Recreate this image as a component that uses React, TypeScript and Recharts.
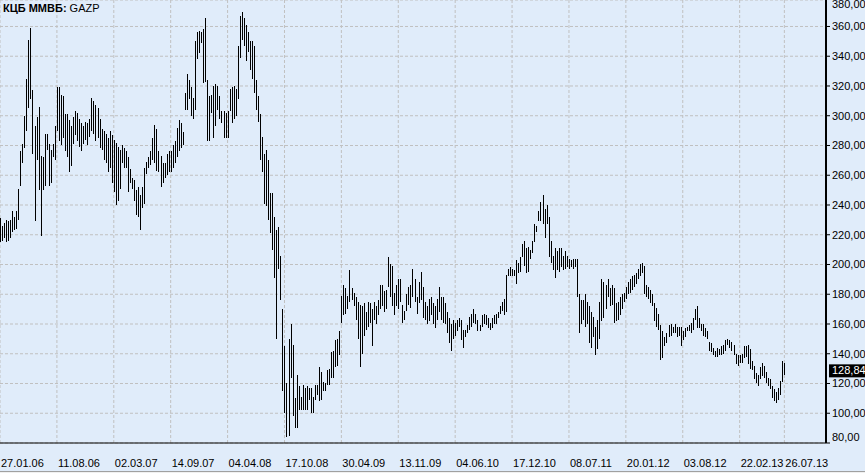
import React from 'react';
import { BarChart, Bar, XAxis, YAxis, CartesianGrid, ReferenceLine } from 'recharts';

// weekly bars, one row per date tick interval (28 weeks)
const tickDates = [
  '27.01.06', '11.08.06', '02.03.07', '14.09.07', '04.04.08', '17.10.08', '30.04.09',
  '13.11.09', '04.06.10', '17.12.10', '08.07.11', '20.01.12', '03.08.12', '22.02.13', '26.07.13',
];
const tickIndexes = [0, 28, 56, 84, 112, 140, 168, 196, 224, 252, 280, 308, 336, 364, 386];
const priceTicks = [80, 100, 120, 140, 160, 180, 200, 220, 240, 260, 280, 300, 320, 340, 360];
const lastPrice = 128.84;

const highs = [
  231, 226, 228, 230, 229, 230, 236, 232, 236, 251, 276, 281, 300, 325, 351, 359, 317, 293, 299, 306, 273, 272, 288, 288, 281, 277, 281, 293,
  319, 319, 314, 313, 301, 301, 297, 293, 299, 303, 302, 298, 295, 293, 296, 295, 298, 312, 310, 307, 305, 298, 291, 290, 288, 285, 290, 287,
  284, 282, 279, 277, 280, 278, 276, 272, 264, 258, 257, 250, 252, 247, 252, 265, 269, 272, 276, 285, 294, 291, 276, 273, 268, 268, 274, 276,
  276, 280, 283, 292, 297, 295, 289, 315, 328, 324, 319, 312, 350, 356, 357, 356, 358, 366, 324, 313, 314, 320, 321, 320, 313, 303, 303, 302,
  303, 318, 319, 320, 318, 347, 367, 370, 366, 361, 356, 350, 350, 347, 324, 313, 301, 286, 274, 277, 270, 248, 248, 232, 223, 225, 206, 170,
  145, 120, 150, 160, 146, 110, 126, 118, 111, 119, 117, 118, 117, 117, 111, 119, 119, 131, 128, 121, 120, 129, 130, 141, 142, 149, 150, 155,
  179, 186, 184, 179, 196, 184, 181, 178, 175, 173, 172, 174, 168, 175, 174, 170, 175, 172, 176, 186, 186, 182, 183, 205, 200, 199, 181, 186,
  190, 190, 173, 169, 180, 185, 186, 197, 190, 178, 188, 195, 185, 175, 172, 177, 178, 174, 172, 177, 185, 178, 178, 174, 168, 164, 160, 163,
  161, 163, 164, 163, 156, 156, 159, 165, 167, 170, 167, 163, 159, 166, 167, 166, 164, 161, 164, 166, 167, 168, 172, 175, 177, 193, 197, 198,
  197, 196, 203, 201, 205, 214, 216, 211, 212, 210, 216, 227, 226, 236, 242, 247, 237, 240, 232, 216, 206, 211, 209, 211, 211, 206, 209, 206,
  204, 203, 204, 204, 204, 180, 176, 176, 180, 175, 172, 168, 165, 158, 163, 175, 190, 188, 186, 190, 184, 186, 184, 174, 175, 178, 180, 181,
  185, 188, 190, 192, 193, 194, 197, 200, 201, 199, 186, 185, 183, 180, 174, 171, 167, 159, 155, 151, 154, 159, 160, 158, 160, 158, 158, 158,
  155, 157, 158, 159, 161, 164, 170, 172, 164, 160, 160, 157, 155, 148, 147, 144, 142, 144, 143, 145, 146, 149, 150, 149, 148, 146, 140, 139,
  139, 140, 145, 145, 146, 143, 135, 132, 127, 126, 131, 134, 132, 128, 124, 123, 118, 116, 114, 117, 122, 135, 134,
];

const lows = [
  215, 216, 218, 215, 216, 218, 222, 223, 224, 230, 253, 268, 278, 290, 305, 311, 274, 229, 270, 250, 219, 250, 253, 277, 253, 255, 272, 270,
  290, 283, 280, 285, 276, 272, 262, 266, 281, 287, 283, 279, 276, 281, 284, 280, 286, 290, 288, 283, 285, 278, 277, 270, 268, 262, 265, 255,
  249, 240, 243, 251, 268, 265, 265, 249, 255, 251, 243, 233, 232, 223, 238, 241, 261, 265, 267, 270, 268, 263, 262, 252, 255, 258, 260, 262,
  262, 265, 268, 272, 276, 278, 280, 304, 304, 311, 300, 298, 304, 338, 342, 349, 322, 323, 283, 283, 302, 285, 293, 304, 298, 295, 285, 285,
  285, 303, 295, 298, 300, 311, 339, 351, 347, 337, 343, 331, 325, 315, 304, 296, 270, 262, 241, 239, 230, 221, 210, 191, 150, 197, 176, 115,
  100, 84, 85, 124, 98, 90, 90, 102, 102, 102, 102, 102, 109, 100, 100, 109, 112, 108, 109, 115, 115, 119, 119, 124, 124, 131, 132, 139,
  161, 166, 167, 170, 175, 176, 172, 163, 150, 131, 140, 152, 156, 158, 161, 145, 163, 160, 166, 170, 172, 168, 170, 185, 178, 172, 166, 172,
  170, 175, 161, 163, 169, 173, 171, 178, 175, 167, 174, 176, 164, 163, 160, 162, 166, 160, 157, 163, 168, 163, 161, 160, 154, 147, 142, 150,
  152, 155, 158, 149, 144, 151, 154, 156, 158, 161, 160, 155, 155, 158, 160, 159, 157, 156, 157, 160, 160, 164, 167, 169, 166, 168, 192, 192,
  192, 192, 187, 194, 195, 205, 199, 194, 195, 204, 208, 215, 222, 229, 229, 227, 218, 227, 205, 201, 196, 191, 196, 195, 198, 196, 197, 198,
  197, 198, 197, 198, 178, 154, 160, 163, 158, 160, 147, 144, 151, 139, 143, 150, 162, 164, 170, 178, 172, 173, 161, 162, 163, 166, 170, 175,
  177, 180, 181, 183, 185, 187, 190, 192, 194, 180, 178, 177, 174, 172, 162, 158, 156, 136, 137, 145, 147, 151, 152, 154, 154, 151, 152, 145,
  149, 151, 155, 155, 154, 156, 163, 157, 157, 155, 152, 151, 150, 142, 141, 139, 138, 138, 139, 139, 140, 142, 146, 144, 142, 139, 133, 132,
  134, 134, 137, 138, 133, 130, 129, 123, 120, 118, 123, 125, 124, 120, 118, 116, 110, 108, 107, 109, 112, 121, 126,
];

const data = highs.map((h, i) => ({ i, range: [lows[i], h] }));

const FONT = '"Liberation Sans", Arial, sans-serif';
const fmt = (v: number) => v.toFixed(2).replace('.', ',');

const HiLo = (props: any) => {
  const { x, y, width, height } = props;
  if (x == null || y == null) return null;
  const cx = Math.floor(x + width / 2) + 0.5;
  const top = Math.round(Math.min(y, y + height));
  const bot = Math.round(Math.max(y, y + height));
  return <line x1={cx} x2={cx} y1={top} y2={Math.max(bot, top + 1)} stroke="#000" strokeWidth={1} />;
};

const DateTick = (props: any) => {
  const { x, y, payload } = props;
  const idx = tickIndexes.indexOf(payload.value);
  return (
    <text x={x + 1} y={y + 24} textAnchor="start" fontSize={11} fontFamily={FONT} fill="#000">
      {tickDates[idx]}
    </text>
  );
};

const PriceTick = (props: any) => {
  const { x, y, payload } = props;
  const v = payload.value;
  const yy = v === 80 ? y - 6 : y;
  return (
    <g>
      <text x={x} y={yy + 4} textAnchor="start" fontSize={11} fontFamily={FONT} fill="#000">
        {fmt(v)}
      </text>
      {v === 360 && (
        <text x={x} y={yy - 18} textAnchor="start" fontSize={11} fontFamily={FONT} fill="#000">
          {fmt(380)}
        </text>
      )}
    </g>
  );
};

const LastLabel = (props: any) => {
  const vb = props.viewBox;
  if (!vb) return null;
  const x = vb.x + vb.width + 3;
  return (
    <g>
      <rect x={x} y={vb.y - 6} width={40} height={13} fill="#000" />
      <text x={x + 3} y={vb.y + 4} fontSize={11} fontFamily={FONT} fill="#fff">
        {fmt(lastPrice)}
      </text>
    </g>
  );
};

export default function App() {
  return (
    <div style={{ position: 'absolute', left: 0, top: 0, width: 865, height: 473, background: '#E0ECFA', overflow: 'hidden' }}>
      <BarChart width={865} height={473} data={data} margin={{ top: 0, right: 0, bottom: 0, left: 0 }} barSize={1}>
        <CartesianGrid stroke="#c0c0c0" strokeDasharray="3 2" />
        <XAxis
          dataKey="i"
          type="number"
          domain={[0, 406.5]}
          ticks={tickIndexes}
          interval={0}
          allowDataOverflow
          height={30}
          tickLine={false}
          tickSize={0}
          tickMargin={0}
          axisLine={{ stroke: '#000' }}
          tick={<DateTick />}
        />
        <YAxis
          orientation="right"
          type="number"
          domain={[80, 377.8]}
          ticks={priceTicks}
          interval={0}
          allowDataOverflow
          width={39}
          tickSize={4}
          tickMargin={2}
          tickLine={{ stroke: '#000' }}
          axisLine={{ stroke: '#000', strokeWidth: 2 }}
          tick={<PriceTick />}
        />
        <Bar dataKey="range" shape={<HiLo />} isAnimationActive={false} />
        <ReferenceLine y={lastPrice} stroke="none" label={<LastLabel />} />
      </BarChart>
      <div style={{ position: 'absolute', left: 3, top: 2, fontFamily: FONT, fontSize: 11, lineHeight: '13px', color: '#000' }}>
        <b>КЦБ ММВБ:</b> GAZP
      </div>
      <div style={{ position: 'absolute', left: 0, top: 471, width: 865, height: 2, background: '#f0f0f0', borderTop: '1px solid #a0a0a0' }} />
    </div>
  );
}
